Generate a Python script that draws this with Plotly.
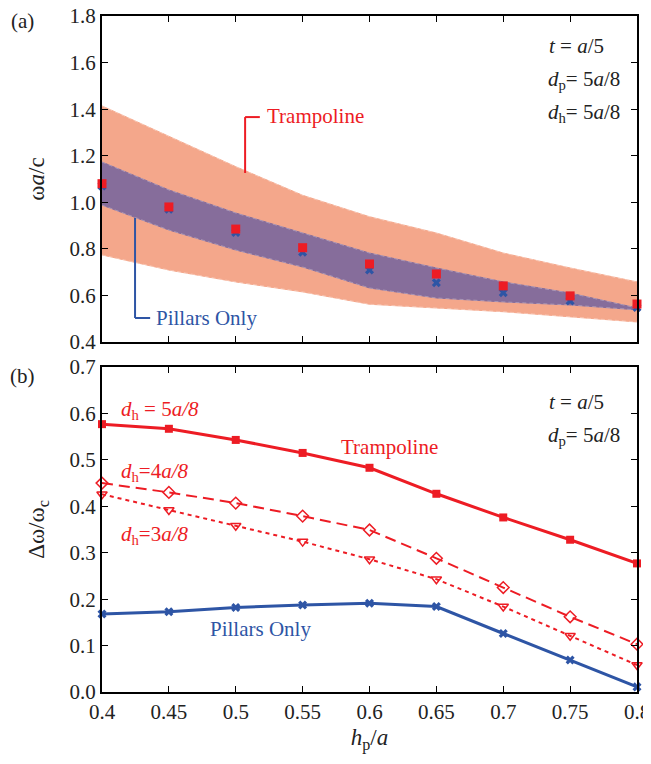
import plotly.graph_objects as go

hp = [0.4, 0.45, 0.5, 0.55, 0.6, 0.65, 0.7, 0.75, 0.8]

# panel (a)
tramp_upper = [1.414, 1.285, 1.153, 1.03, 0.938, 0.868, 0.782, 0.718, 0.658]
tramp_lower = [0.774, 0.709, 0.658, 0.615, 0.562, 0.546, 0.53, 0.508, 0.486]
pill_upper = [1.173, 1.053, 0.954, 0.868, 0.782, 0.718, 0.658, 0.61, 0.546]
pill_lower = [0.988, 0.881, 0.795, 0.722, 0.632, 0.589, 0.572, 0.559, 0.538]
tramp_mid = [1.08, 0.98, 0.885, 0.805, 0.735, 0.692, 0.641, 0.598, 0.563]
pill_mid = [1.07, 0.97, 0.87, 0.785, 0.709, 0.654, 0.611, 0.576, 0.548]

# panel (b)
dh5 = [0.577, 0.567, 0.543, 0.515, 0.483, 0.427, 0.376, 0.328, 0.277]
dh4 = [0.450, 0.430, 0.407, 0.379, 0.349, 0.288, 0.225, 0.162, 0.103]
dh3 = [0.426, 0.392, 0.358, 0.324, 0.286, 0.243, 0.184, 0.121, 0.058]
pillars = [0.168, 0.173, 0.182, 0.1875, 0.191, 0.184, 0.126, 0.069, 0.011]

xticks = [0.4, 0.45, 0.5, 0.55, 0.6, 0.65, 0.7, 0.75, 0.8]
xticklabels = ["0.4", "0.45", "0.5", "0.55", "0.6", "0.65", "0.7", "0.75", "0.8"]
ytop_ticks = [0.4, 0.6, 0.8, 1.0, 1.2, 1.4, 1.6, 1.8]
ybot_ticks = [0.0, 0.1, 0.2, 0.3, 0.4, 0.5, 0.6, 0.7]

RED = "#ED1C24"
BLUE = "#2E55A5"
SALMON = "#F4A78B"
PURPLE = "#866D9B"
FONT = "Liberation Serif"
TXT = "#222"

fig = go.Figure()

# bands (a)
fig.add_trace(go.Scatter(x=hp + hp[::-1], y=tramp_upper + tramp_lower[::-1], fill="toself",
                         fillcolor=SALMON, line=dict(color=SALMON, width=1), mode="lines",
                         xaxis="x2", yaxis="y2", hoverinfo="skip"))
for arr in (tramp_upper, tramp_lower):
    fig.add_trace(go.Scatter(x=hp, y=arr, mode="lines", line=dict(color="rgba(255,255,255,0.45)", width=0.7, dash="4px,3px"),
                             xaxis="x2", yaxis="y2", hoverinfo="skip"))
fig.add_trace(go.Scatter(x=hp + hp[::-1], y=pill_upper + pill_lower[::-1], fill="toself",
                         fillcolor=PURPLE, line=dict(color=PURPLE, width=1), mode="lines",
                         xaxis="x2", yaxis="y2", hoverinfo="skip"))
for arr in (pill_upper, pill_lower):
    fig.add_trace(go.Scatter(x=hp, y=arr, mode="lines", line=dict(color="rgba(255,255,255,0.4)", width=0.7, dash="4px,3px"),
                             xaxis="x2", yaxis="y2", hoverinfo="skip"))
fig.add_trace(go.Scatter(x=hp, y=pill_mid, mode="markers",
                         marker=dict(symbol="x", size=8, color=BLUE, line=dict(width=0)),
                         xaxis="x2", yaxis="y2", cliponaxis=False))
fig.add_trace(go.Scatter(x=hp, y=tramp_mid, mode="markers",
                         marker=dict(symbol="square", size=9, color=RED, line=dict(width=0)),
                         xaxis="x2", yaxis="y2", cliponaxis=False))

# panel (b)
fig.add_trace(go.Scatter(x=hp, y=dh5, mode="lines+markers", line=dict(color=RED, width=3),
                         marker=dict(symbol="square", size=8, color=RED), cliponaxis=False))
fig.add_trace(go.Scatter(x=hp, y=dh4, mode="lines+markers", line=dict(color=RED, width=2, dash="11px,6px"),
                         marker=dict(symbol="diamond-open", size=9, color=RED, line=dict(width=1.5)), cliponaxis=False))
fig.add_trace(go.Scatter(x=hp, y=dh3, mode="lines+markers", line=dict(color=RED, width=2, dash="4px,4px"),
                         marker=dict(symbol="triangle-down-open", size=9, color=RED, line=dict(width=1.5)), cliponaxis=False))
fig.add_trace(go.Scatter(x=hp, y=pillars, mode="lines+markers", line=dict(color=BLUE, width=3),
                         marker=dict(symbol="x", size=8, color=BLUE, line=dict(width=0)), cliponaxis=False))

axis_common = dict(showline=True, linecolor="black", linewidth=2, mirror="ticks", ticks="inside",
                   ticklen=6, tickcolor="black", tickwidth=1.2, showgrid=False, zeroline=False,
                   automargin=False, ticklabeloverflow="allow",
                   tickfont=dict(family=FONT, size=21, color=TXT))

# page has an 8px body margin: figure is offset by (8, 8); keep page within the window
OFF = 8
W, H = 651 - OFF, 764 - 2 * OFF
L, R, T = 102 - OFF, 14, 16 - OFF
B = H - (692 - OFF)

fig.update_layout(
    width=W, height=H,
    margin=dict(l=L, r=R, t=T, b=B, autoexpand=False),
    paper_bgcolor="white", plot_bgcolor="white",
    showlegend=False,
    font=dict(family=FONT, size=20, color=TXT),
    xaxis=dict(range=[0.4, 0.8], tickvals=xticks, ticktext=xticklabels, anchor="y",
               title=dict(text="<i>h</i><sub>p</sub>/<i>a</i>", font=dict(family=FONT, size=23, color=TXT), standoff=6),
               **axis_common),
    xaxis2=dict(range=[0.4, 0.8], tickvals=xticks, showticklabels=False, anchor="y2", matches="x",
                **axis_common),
    yaxis=dict(range=[0, 0.7001], tickvals=ybot_ticks, ticktext=[f"{v:.1f}" for v in ybot_ticks],
               domain=[0, 325 / (H - T - B)], anchor="x",
               title=dict(text="Δω/ω<sub>c</sub>", font=dict(family=FONT, size=23, color=TXT), standoff=18),
               **axis_common),
    yaxis2=dict(range=[0.3999, 1.8002], tickvals=ytop_ticks, ticktext=[f"{v:.1f}" for v in ytop_ticks],
                domain=[350 / (H - T - B), 1], anchor="x2",
                title=dict(text="ω<i>a</i>/c", font=dict(family=FONT, size=23, color=TXT), standoff=18),
                **axis_common),
)

def ann(text, x, y, color=TXT, size=21, xanchor="center", xref="paper", yref="paper"):
    fig.add_annotation(text=text, x=x, y=y, xref=xref, yref=yref, showarrow=False,
                       font=dict(family=FONT, size=size, color=color), xanchor=xanchor, yanchor="middle")

def px(xp):  # page pixel to paper x
    return (xp - OFF - L) / (W - L - R)
def py(yp):
    return (H - B - (yp - OFF)) / (H - T - B)

ann("(a)", px(22), py(21), size=21)
ann("(b)", px(22), py(376), size=21)
ann("<i>t</i> = <i>a</i>/5", px(606), py(46), xanchor="right")
ann("<i>d</i><sub>p</sub>= 5<i>a</i>/8", px(622), py(80), xanchor="right")
ann("<i>d</i><sub>h</sub>= 5<i>a</i>/8", px(622), py(113), xanchor="right")
ann("<i>t</i> = <i>a</i>/5", px(606), py(402), xanchor="right")
ann("<i>d</i><sub>p</sub>= 5<i>a</i>/8", px(622), py(436), xanchor="right")

ann("Trampoline", px(265), py(116), color=RED, xanchor="left")
ann("Pillars Only", px(154), py(318), color=BLUE, xanchor="left")
ann("Trampoline", px(339), py(447), color=RED, xanchor="left")
ann("Pillars Only", px(208), py(629), color=BLUE, xanchor="left")
ann("<i>d</i><sub>h</sub> = 5<i>a/8</i>", px(119), py(410), color=RED, xanchor="left")
ann("<i>d</i><sub>h</sub>=4<i>a/8</i>", px(119), py(472), color=RED, xanchor="left")
ann("<i>d</i><sub>h</sub>=3<i>a/8</i>", px(119), py(535), color=RED, xanchor="left")

# leader lines in top panel (data coords)
fig.add_shape(type="line", xref="x2", yref="y2", x0=0.507, y0=1.126, x1=0.507, y1=1.366,
              line=dict(color=RED, width=2))
fig.add_shape(type="line", xref="x2", yref="y2", x0=0.507, y0=1.366, x1=0.518, y1=1.366,
              line=dict(color=RED, width=2))
fig.add_shape(type="line", xref="x2", yref="y2", x0=0.4247, y0=0.933, x1=0.4247, y1=0.503,
              line=dict(color=BLUE, width=2))
fig.add_shape(type="line", xref="x2", yref="y2", x0=0.4247, y0=0.503, x1=0.436, y1=0.503,
              line=dict(color=BLUE, width=2))

fig.write_html("out.html")
